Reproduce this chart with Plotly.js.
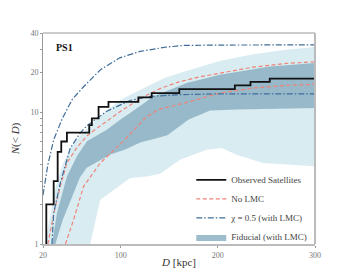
<!DOCTYPE html>
<html>
<head>
<meta charset="utf-8">
<script src="https://cdn.plot.ly/plotly-3.0.1.min.js"></script>
<style>html,body{margin:0;padding:0;background:#fff;}#chart{width:350px;height:280px;}</style>
</head>
<body>
<div id="chart"></div>
<script>
// Observed satellites: distance at which the cumulative count steps, and the count after the step
var obsDist  = [23.4, 31.0, 35.1, 38.8, 44.6, 67.6, 70.3, 77.2, 87.4, 118.2, 131.9, 160.3, 217.5, 233.6, 253.4];
var obsCount = [2, 3, 5, 6, 7, 8, 9, 11, 12, 13, 14, 15, 16, 17, 18];

// No LMC (two dashed curves)
var noLmcHiD = [25, 32.7, 37.8, 44.6, 54.9, 65, 73.7, 85.7, 100, 112, 125, 142, 160, 180, 207, 236, 270, 300];
var noLmcHiN = [1, 1.93, 2.74, 4.12, 5.4, 6.6, 7.4, 8.6, 10.2, 11.6, 13.3, 15.3, 17.0, 18.5, 20.2, 22.0, 23.5, 24.2];
var noLmcLoD = [43.1, 51.5, 61.8, 78.9, 104.5, 125.1, 138.8, 166.2, 202.1, 236.3, 270.6, 300];
var noLmcLoN = [1, 1.53, 2.74, 4.12, 6.2, 9.05, 10.5, 11.8, 14.0, 15.3, 16.0, 16.3];

// chi = 0.5 (with LMC), two dash-dot curves
var chiHiD = [20, 25, 31, 40, 50, 62, 79, 99, 120, 147, 165, 200, 300];
var chiHiN = [2.35, 4.0, 6.2, 9.0, 12.5, 15.7, 21.0, 25.9, 29.0, 31.3, 32.2, 32.4, 32.5];
var chiLoD = [29.2, 31, 37.8, 48.1, 58.3, 65.2, 85.7, 99.4, 109.7, 130.2, 161, 200, 300];
var chiLoN = [1.0, 1.72, 2.9, 5.36, 6.96, 7.92, 10.2, 11.4, 12.3, 13.2, 13.6, 13.8, 13.8];

// Fiducial (with LMC): outer (light) band
var outerHiD = [22, 27, 33, 40, 48, 58, 68, 78, 88, 99, 110, 120, 133, 145, 160, 180, 202, 235, 270, 300];
var outerHiN = [1, 1.6, 2.7, 4.0, 5.3, 6.6, 7.8, 9.2, 10.6, 12.3, 13.6, 14.8, 16.6, 18.2, 19.8, 21.9, 24.5, 27.5, 29.8, 31.3];
var outerLoD = [22, 68.6, 78.9, 109.7, 126.8, 140.5, 161, 188.4, 203.8, 219.2, 246.6, 274, 300];
var outerLoN = [1, 1, 2.17, 3.17, 3.26, 3.42, 4.37, 5.2, 5.36, 4.77, 4.12, 4.0, 3.89];

// Fiducial (with LMC): inner (dark) band
var innerHiD = [29.2, 34.4, 44.6, 54.9, 65.2, 85.7, 99.4, 109.7, 133.6, 167.9, 202.1, 253.4, 300];
var innerHiN = [1, 1.72, 3.26, 4.63, 6.02, 7.38, 8.79, 9.88, 13.2, 16.7, 19.3, 22.3, 23.7];
var innerLoD = [29.2, 32.7, 40, 50, 58, 65, 79, 90, 104, 120, 135, 148, 170, 192, 220, 300];
var innerLoN = [1, 1, 1.5, 2.3, 3.2, 3.8, 4.3, 4.8, 5.2, 5.9, 6.3, 6.7, 8.8, 10.3, 10.5, 10.8];

var yTickVals = [1, 2, 3, 4, 5, 6, 7, 8, 9, 10, 20, 30, 40];
var yTickText = ['1', '', '', '', '', '', '', '', '', '10', '20', '', '40'];
var xTickVals = [20, 100, 200, 300];

var lightCol = '#d8ecf1';
var darkCol = 'rgba(140,176,195,0.85)';
var redCol = '#f08478';
var blueCol = '#3f6d99';

var obsX = [obsDist[0]].concat(obsDist, [300]);
var obsY = [1].concat(obsCount, [obsCount[obsCount.length - 1]]);

var traces = [
  {x: outerLoD, y: outerLoN, mode: 'lines', line: {width: 0}, showlegend: false, hoverinfo: 'skip'},
  {x: outerHiD, y: outerHiN, mode: 'lines', line: {width: 0}, fill: 'tonexty', fillcolor: lightCol, showlegend: false, hoverinfo: 'skip'},
  {x: innerLoD, y: innerLoN, mode: 'lines', line: {width: 0}, showlegend: false, hoverinfo: 'skip'},
  {x: innerHiD, y: innerHiN, mode: 'lines', line: {width: 0}, fill: 'tonexty', fillcolor: darkCol,
   name: 'Fiducial (with LMC)', legendrank: 4},
  {x: noLmcHiD, y: noLmcHiN, mode: 'lines', line: {color: redCol, width: 1.2, dash: '4px,2.5px'},
   name: 'No LMC', legendgroup: 'nolmc', legendrank: 2},
  {x: noLmcLoD, y: noLmcLoN, mode: 'lines', line: {color: redCol, width: 1.2, dash: '4px,2.5px'},
   legendgroup: 'nolmc', showlegend: false},
  {x: chiHiD, y: chiHiN, mode: 'lines', line: {color: blueCol, width: 1.2, dash: '6px,2px,1.5px,2px'},
   name: '\u03c7 = 0.5 (with LMC)', legendgroup: 'chi', legendrank: 3},
  {x: chiLoD, y: chiLoN, mode: 'lines', line: {color: blueCol, width: 1.2, dash: '6px,2px,1.5px,2px'},
   legendgroup: 'chi', showlegend: false},
  {x: obsX, y: obsY, mode: 'lines', line: {color: '#111', width: 1.8, shape: 'hv'},
   name: 'Observed Satellites', legendrank: 1}
];

var serif = 'Liberation Serif, DejaVu Serif, serif';

var layout = {
  width: 350, height: 280,
  margin: {l: 43, r: 35, t: 33, b: 36},
  paper_bgcolor: '#fff', plot_bgcolor: '#fff',
  font: {family: serif, size: 9, color: '#444'},
  showlegend: true,
  legend: {x: 0.99, xanchor: 'right', y: -0.035, yanchor: 'bottom', bgcolor: 'rgba(255,255,255,0)',
           font: {family: serif, size: 9, color: '#444'}, tracegroupgap: 0, itemwidth: 30, traceorder: 'normal'},
  xaxis: {range: [20, 300], tickvals: xTickVals, ticks: 'outside', ticklen: 2, tickcolor: '#999',
          showgrid: false, zeroline: false, showline: true, linecolor: '#bbb', linewidth: 2,
          tickfont: {family: serif, size: 8, color: '#777'},
          title: {text: '<i>D</i> [kpc]', font: {family: serif, size: 11, color: '#333'}, standoff: 0}},
  yaxis: {type: 'log', range: [0, Math.log10(40)], tickvals: yTickVals, ticktext: yTickText,
          ticks: 'outside', ticklen: 2, tickcolor: '#999',
          showgrid: false, zeroline: false, showline: true, linecolor: '#999', linewidth: 1,
          tickfont: {family: serif, size: 8, color: '#777'},
          title: {text: '<i>N</i>(&lt; <i>D</i>)', font: {family: serif, size: 11, color: '#333'}, standoff: 8}},
  shapes: [
    {type: 'line', xref: 'paper', yref: 'paper', x0: 0, x1: 1, y0: 1, y1: 1, line: {color: '#999', width: 1}},
    {type: 'line', xref: 'paper', yref: 'paper', x0: 1, x1: 1, y0: 0, y1: 1, line: {color: '#bbb', width: 2}}
  ],
  annotations: [
    {text: '<b>PS1</b>', xref: 'paper', yref: 'paper', x: 0.04, y: 0.93, xanchor: 'left', yanchor: 'middle',
     showarrow: false, font: {family: serif, size: 10, color: '#111'}}
  ]
};

Plotly.newPlot('chart', traces, layout, {displayModeBar: false, staticPlot: true});
</script>
</body>
</html>
